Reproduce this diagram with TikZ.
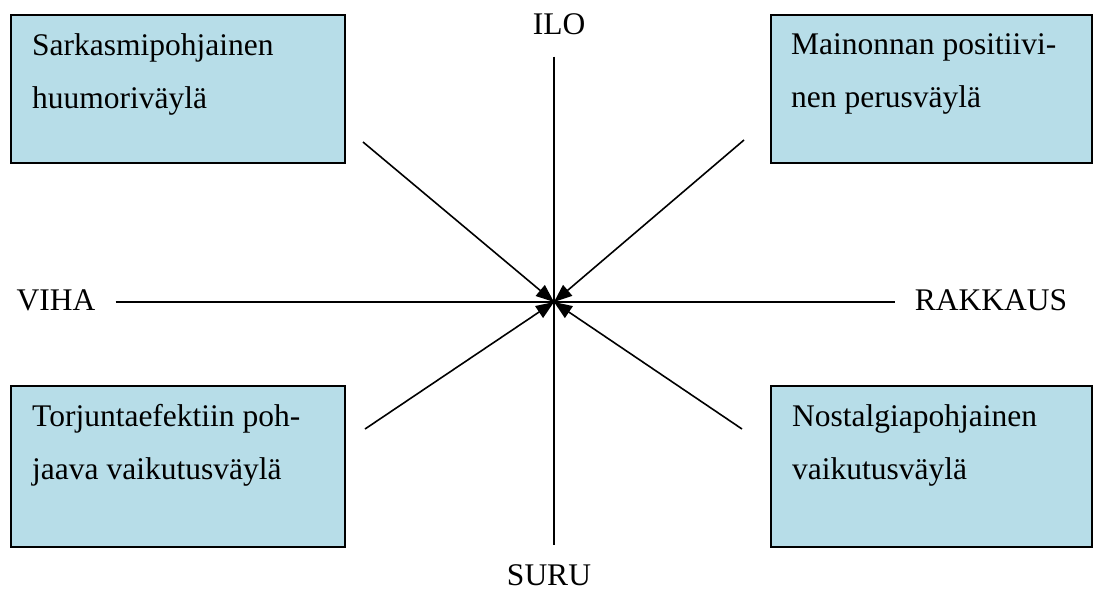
\documentclass[tikz,border=0pt]{standalone}
\usepackage{fontspec}
\setmainfont{Liberation Serif}
\usetikzlibrary{positioning,arrows.meta}
\definecolor{vaylasin}{RGB}{183,221,232}
\tikzset{
  vaylabox/.style={draw=black, line width=1.6pt, fill=vaylasin, anchor=north west, inner sep=0pt},
  vaylateksti/.style={align=left, inner sep=0pt, font=\fontsize{31.5}{53}\selectfont},
  tunne/.style={anchor=base, inner sep=0pt, font=\fontsize{31.5}{38}\selectfont},
  akseli/.style={line width=1.6pt},
  nuoli/.style={line width=1.6pt, -{Triangle[length=18pt,width=14pt]}}
}
\begin{document}
\begin{tikzpicture}[x=1pt,y=1pt,yscale=-1,xscale=1]
    \useasboundingbox (0,0) rectangle (1093,590);
    % Center point
    \coordinate (keskus) at (554,302);
    % Boxes
    \node [vaylabox, minimum width=334, minimum height=148] (sarkasmi) at (10,14) {};
    \node [vaylabox, minimum width=321, minimum height=148] (mainonta) at (770,14) {};
    \node [vaylabox, minimum width=334, minimum height=161] (torjunta) at (10,385) {};
    \node [vaylabox, minimum width=321, minimum height=161] (nostalgia) at (770,385) {};
    % Box texts
    \node [vaylateksti, below right=19pt and 22pt of sarkasmi.north west] (sarkasmiteksti) {Sarkasmipohjainen\\huumoriväylä};
    \node [vaylateksti, below right=19pt and 21pt of mainonta.north west] (mainontateksti) {Mainonnan positiivi-\\nen perusväylä};
    \node [vaylateksti, below right=19pt and 22pt of torjunta.north west] (torjuntateksti) {Torjuntaefektiin poh-\\jaava vaikutusväylä};
    \node [vaylateksti, below right=19pt and 22pt of nostalgia.north west] (nostalgiateksti) {Nostalgiapohjainen\\vaikutusväylä};
    % Text Node
    \node [tunne] (ilo) at (559,34) {ILO};
    % Text Node
    \node [tunne] (suru) at (549,585) {SURU};
    % Text Node
    \node [tunne] (viha) at (56,310) {VIHA};
    % Text Node
    \node [tunne] (rakkaus) at (991,310) {RAKKAUS};
    % Axes
    \draw [akseli, shorten <=20pt, shorten >=20pt] (viha.east |- keskus) -- (rakkaus.west |- keskus);
    \draw [akseli, shorten <=22pt, shorten >=19pt] (ilo.south -| keskus) -- (suru.north -| keskus);
    % Diagonal arrows
    \coordinate (nwalku) at (363,142);
    \coordinate (nealku) at (744,140);
    \coordinate (swalku) at (365,429);
    \coordinate (sealku) at (742,429);
    \foreach \alku in {nwalku,nealku,swalku,sealku}
      \draw [nuoli] (\alku) -- (keskus);
\end{tikzpicture}
\end{document}
